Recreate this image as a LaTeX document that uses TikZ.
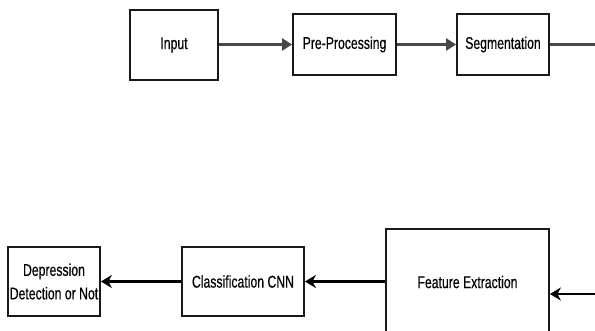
\documentclass[tikz,border=0pt]{standalone}
\usepackage{fontspec}
\setmainfont{Liberation Sans}[FakeStretch=0.72,FakeBold=0.4]
\usetikzlibrary{arrows.meta}

\begin{document}
\begin{tikzpicture}[x=1pt,y=-1pt,
  blockbox/.style={draw=black!90, line width=1.8pt, fill=white, inner sep=0pt,
    align=center, font=\fontsize{17}{23.5}\selectfont},
  flowtop/.style={draw=black!72, line width=2.3pt, -{Triangle[length=10pt,width=12pt]}},
  flowbot/.style={draw=black, line width=2.1pt, -{Stealth[length=11pt,width=13pt,inset=3.5pt]}},
  flowplain/.style={draw=black!72, line width=2.3pt}]
  \clip (0,0) rectangle (595,330);
  \useasboundingbox (0,0) rectangle (595,330);

  % upper row
  \node[blockbox, minimum width=88pt, minimum height=70pt] (inp) at (174,45) {Input};
  \node[blockbox, minimum width=103pt, minimum height=61pt] (pre) at (344.5,44.5) {Pre-Processing};
  \node[blockbox, minimum width=92pt, minimum height=61pt] (seg) at (503,44.5) {Segmentation};
  \coordinate (segout) at (600,44.5);

  % lower row
  \node[blockbox, minimum width=92pt, minimum height=69pt] (dep) at (54,281.5)
    {Depression\\Detection or Not};
  \node[blockbox, minimum width=122pt, minimum height=69pt] (cls) at (243,281.5) {Classification CNN};
  \node[blockbox, minimum width=163pt, minimum height=106pt] (feat) at (467.5,282) {Feature Extraction};
  \coordinate (featin) at (600,294);

  % connectors
  \draw[flowtop] (inp.east |- 0,44.5) -- (pre.west);
  \draw[flowtop] (pre) -- (seg);
  \draw[flowplain] (seg.east) -- (segout);
  \draw[flowbot] (feat.west |- 0,281.5) -- (cls.east);
  \draw[flowbot] (cls) -- (dep);
  \draw[flowbot] (featin) -- (featin -| feat.east);
\end{tikzpicture}
\end{document}
